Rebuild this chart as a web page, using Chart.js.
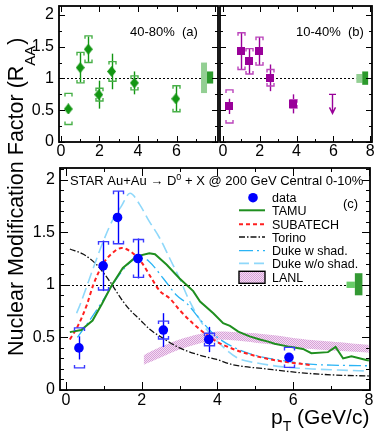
<!DOCTYPE html>
<html><head><meta charset="utf-8">
<script src="https://cdn.jsdelivr.net/npm/chart.js@4.4.0/dist/chart.umd.min.js"></script>
<style>
html,body{margin:0;padding:0;background:#fff;}
#wrap{position:relative;width:378px;height:441px;overflow:hidden;background:#fff;}
canvas{position:absolute;left:0;top:0;}
</style></head><body>
<div id="wrap">
<canvas id="ca" width="378" height="441"></canvas>
<canvas id="cb" width="378" height="441"></canvas>
<canvas id="cc" width="378" height="441"></canvas>
</div>
<script>
// ---------------- DATA ----------------
// Panel (a) 40-80%
const aX = [0.38, 1.0, 1.42, 1.96, 2.63, 3.81, 5.96];
const aY = [0.52, 1.17, 1.46, 0.745, 1.11, 0.93, 0.68];
const aStat = [0.07, 0.23, 0.20, 0.22, 0.28, 0.18, 0.20];
const aSys = [0.245, 0.24, 0.21, 0.10, 0.155, 0.11, 0.205];
const aNormLight = [7.27, 7.58, 0.77, 1.25];
const aNormDark = [7.58, 7.90, 0.92, 1.11];

// Panel (b) 10-40%
const bX = [0.34, 1.0, 1.39, 1.94, 2.58, 3.8];
const bY = [0.56, 1.43, 1.27, 1.43, 1.01, 0.60];
const bStat = [0.12, 0.29, 0.20, 0.22, 0.21, 0.15];
const bSys = [0.26, 0.29, 0.20, 0.22, 0.13, 0.065];
const bLimitX = [5.94];
const bLimitTop = [0.75];
const bLimitBottom = [0.45];
const bNormLight = [7.25, 7.57, 0.93, 1.07];
const bNormDark = [7.57, 7.89, 0.90, 1.11];

// Panel (c) 0-10%
const cX = [0.34, 0.98, 1.36, 1.90, 2.57, 3.77, 5.89];
const cY = [0.40, 1.18, 1.64, 1.25, 0.57, 0.48, 0.31];
const cStat = [0.11, 0.24, 0.25, 0.19, 0.16, 0.12, 0.03];
const cSys = [0.19, 0.23, 0.25, 0.18, 0.085, 0.06, 0.095];
const cNormLight = [7.41, 7.63, 0.97, 1.03];
const cNormDark = [7.63, 7.83, 0.90, 1.11];

// Model curves
const tamuX = [0.1,0.4,0.7,0.95,1.2,1.5,1.86,2.2,2.35,2.66,3.0,3.36,3.54,3.89,4.15,4.33,4.55,4.85,5.12,5.34,5.51,5.91,6.26,6.48,6.92,7.12,7.32,7.54,7.93,8.0];
const tamuY = [0.55,0.57,0.66,0.82,0.99,1.16,1.27,1.30,1.29,1.19,1.06,0.94,0.84,0.73,0.635,0.61,0.555,0.51,0.48,0.46,0.44,0.41,0.39,0.35,0.36,0.41,0.30,0.32,0.285,0.28];
const subaX = [0.1,0.3,0.55,0.72,0.98,1.25,1.47,1.73,2.0,2.26,2.48,2.74,3.0,3.36,3.89,4.41,4.94,5.56,6.09,6.5];
const subaY = [0.48,0.60,0.81,1.0,1.2,1.31,1.35,1.31,1.21,1.06,0.94,0.87,0.76,0.63,0.48,0.39,0.33,0.28,0.254,0.235];
const torX = [0.1,0.46,0.81,1.16,1.34,1.51,1.69,1.95,2.2,2.48,3.0,3.54,3.98,4.41,5.3,6.17,7.05,8.0];
const torY = [1.34,1.29,1.19,1.03,0.93,0.84,0.76,0.67,0.58,0.51,0.40,0.33,0.29,0.24,0.20,0.165,0.143,0.133];
const dukeWX = [0.3,0.6,0.9,1.34,1.6,1.86,2.05,2.2,2.57,2.92,3.2,3.54,4.0,4.59,5.0,5.9,6.44,7.2,8.0];
const dukeWY = [0.50,0.65,0.81,1.06,1.18,1.25,1.25,1.22,1.06,0.90,0.82,0.67,0.50,0.38,0.33,0.27,0.245,0.235,0.23];
const dukeNoX = [0.28,0.37,0.72,0.98,1.25,1.45,1.69,1.95,2.17,2.48,2.74,3.0,3.23,3.62,4.06,4.55,5.0,5.73,6.5,7.2,8.0];
const dukeNoY = [0.73,0.81,1.16,1.41,1.63,1.74,1.87,1.76,1.62,1.44,1.25,1.06,0.87,0.62,0.44,0.30,0.26,0.22,0.20,0.19,0.18];
const lanlX = [2.05,2.5,3.0,3.5,4.0,4.5,5.0,5.5,6.0,6.5,7.0,7.5,8.0];
const lanlHi = [0.33,0.41,0.48,0.53,0.555,0.55,0.54,0.52,0.495,0.475,0.46,0.445,0.43];
const lanlLo = [0.24,0.31,0.385,0.44,0.475,0.47,0.45,0.43,0.405,0.39,0.375,0.365,0.355];

// Tick labels
const aXTicks = [0, 2, 4, 6];
const bXTicks = [0, 2, 4, 6, 8];
const cXTicks = [0, 2, 4, 6, 8];
const abYTicks = [0, 0.5, 1, 1.5, 2];
const cYTicks = [0, 0.5, 1, 1.5, 2];
const legendLabels = ['data', 'TAMU', 'SUBATECH', 'Torino', 'Duke w shad.', 'Duke w/o shad.', 'LANL'];

// ---------------- STYLE ----------------
const FONT = '"Liberation Sans", Arial, Helvetica, sans-serif';
const GREEN = '#129612', GREEN_L = '#48b048';
const PURPLE = '#990099', PURPLE_L = '#bb44bb';
const BLUE = '#0000ff', BLUE_L = '#3a3aff';
const C_TAMU = '#1f8f1f', C_SUBA = '#ff2020', C_TOR = '#111111', C_DW = '#2ab4f5', C_DNO = '#8fd8fa';

const pts = (xs, ys) => xs.map((v, i) => ({x: v, y: ys[i]}));

function markerImg(kind, color, w, h) {
  const c = document.createElement('canvas'); c.width = w; c.height = h;
  const g = c.getContext('2d'); g.fillStyle = color; g.beginPath();
  if (kind === 'diamond') { g.moveTo(w/2,0); g.lineTo(w,h/2); g.lineTo(w/2,h); g.lineTo(0,h/2); g.closePath(); }
  else { g.rect(0,0,w,h); }
  g.fill(); return c;
}
function lanlPattern(ctx) {
  const c = document.createElement('canvas'); c.width = 2; c.height = 2;
  const g = c.getContext('2d');
  g.fillStyle = '#f4dcf4'; g.fillRect(0,0,2,2);
  g.fillStyle = '#d7a2d7'; g.fillRect(0,0,1,1); g.fillRect(1,1,1,1);
  return ctx.createPattern(c, 'repeat');
}

function drawFrame(chart, cfg) {
  const {ctx, chartArea: A, scales: {x, y}} = chart;
  ctx.save();
  ctx.strokeStyle = '#000'; ctx.lineWidth = 1;
  ctx.beginPath();
  for (let k = Math.ceil(x.min / cfg.xStep); k * cfg.xStep <= x.max + 1e-9; k++) {
    const v = k * cfg.xStep;
    const px = Math.round(x.getPixelForValue(v)) + 0.5;
    const major = Math.abs(v / cfg.xMajor - Math.round(v / cfg.xMajor)) < 1e-6;
    const L = major ? cfg.majLen : cfg.minLen;
    ctx.moveTo(px, A.bottom); ctx.lineTo(px, A.bottom - L);
    ctx.moveTo(px, A.top); ctx.lineTo(px, A.top + L);
  }
  for (let k = Math.ceil(y.min / cfg.yStep - 1e-9); k * cfg.yStep <= y.max + 1e-9; k++) {
    const v = k * cfg.yStep;
    const py = Math.round(y.getPixelForValue(v)) + 0.5;
    const major = Math.abs(v / cfg.yMajor - Math.round(v / cfg.yMajor)) < 1e-6;
    const L = major ? cfg.majLen : cfg.minLen;
    ctx.moveTo(A.left, py); ctx.lineTo(A.left + L, py);
    ctx.moveTo(A.right, py); ctx.lineTo(A.right - L, py);
  }
  ctx.stroke();
  ctx.lineWidth = 1.8;
  ctx.strokeRect(A.left, A.top, A.right - A.left, A.bottom - A.top);
  ctx.fillStyle = '#000'; ctx.font = cfg.tickFont;
  ctx.textAlign = 'center'; ctx.textBaseline = 'middle';
  cfg.xLabels.forEach(v => ctx.fillText(String(v), x.getPixelForValue(v), cfg.xLabelY));
  ctx.textAlign = 'right';
  cfg.yLabels.forEach(v => ctx.fillText(String(v), cfg.yLabelX, y.getPixelForValue(v)));
  ctx.restore();
}

function drawUnder(chart, light, dark, lightColor, darkColor) {
  const {ctx, chartArea: A, scales: {x, y}} = chart;
  ctx.save();
  ctx.strokeStyle = '#000'; ctx.lineWidth = 1; ctx.setLineDash([2, 2]);
  const py = Math.round(y.getPixelForValue(1)) + 0.5;
  ctx.beginPath(); ctx.moveTo(A.left, py); ctx.lineTo(x.getPixelForValue(light[0]), py); ctx.stroke();
  ctx.setLineDash([]);
  [[light, lightColor], [dark, darkColor]].forEach(([b, col]) => {
    const x0 = x.getPixelForValue(b[0]), x1 = x.getPixelForValue(b[1]);
    const y0 = y.getPixelForValue(b[2]), y1 = y.getPixelForValue(b[3]);
    ctx.fillStyle = col; ctx.fillRect(x0, y1, x1 - x0, y0 - y1);
  });
  ctx.restore();
}

function drawErrors(chart, xs, ys, stat, sys, sc, syc, hw) {
  const {ctx, scales: {x, y}} = chart;
  ctx.save(); ctx.lineWidth = 1.4;
  for (let i = 0; i < xs.length; i++) {
    const px = Math.round(x.getPixelForValue(xs[i])) + 0.5;
    ctx.strokeStyle = sc; ctx.beginPath();
    ctx.moveTo(px, y.getPixelForValue(ys[i] - stat[i])); ctx.lineTo(px, y.getPixelForValue(ys[i] + stat[i])); ctx.stroke();
    ctx.strokeStyle = syc;
    const yt = y.getPixelForValue(ys[i] + sys[i]), yb = y.getPixelForValue(ys[i] - sys[i]);
    const hk = 3;
    ctx.beginPath();
    ctx.moveTo(px - hw, yt + hk); ctx.lineTo(px - hw, yt); ctx.lineTo(px + hw, yt); ctx.lineTo(px + hw, yt + hk);
    ctx.moveTo(px - hw, yb - hk); ctx.lineTo(px - hw, yb); ctx.lineTo(px + hw, yb); ctx.lineTo(px + hw, yb - hk);
    ctx.stroke();
  }
  ctx.restore();
}

function makeChart(id, pad, xr, yr, datasets, plugin) {
  return new Chart(document.getElementById(id), {
    type: 'scatter',
    data: {datasets},
    options: {
      responsive: false, animation: false, devicePixelRatio: 1, events: [],
      layout: {padding: pad},
      plugins: {legend: {display: false}, tooltip: {enabled: false}, title: {display: false}},
      scales: {
        x: {type: 'linear', min: xr[0], max: xr[1], display: false},
        y: {type: 'linear', min: yr[0], max: yr[1], display: false}
      }
    },
    plugins: [plugin]
  });
}

const tickFont = '16px ' + FONT;

// ---------------- PANEL (a) ----------------
makeChart('ca', {left: 59, right: 160, top: 5, bottom: 299}, [-0.1, 8.15], [0, 2.14], [
  {data: pts(aX, aY), pointStyle: markerImg('diamond', GREEN, 9, 11), pointRadius: 5, showLine: false}
], {
  id: 'pa',
  beforeDatasetsDraw(chart) { drawUnder(chart, aNormLight, aNormDark, '#93cf93', '#2c9a2c'); },
  beforeDatasetDraw(chart, args) { if (args.index === 0) drawErrors(chart, aX, aY, aStat, aSys, GREEN, GREEN_L, 3.5); },
  afterDraw(chart) {
    drawFrame(chart, {xStep: 1, xMajor: 2, yStep: 0.25, yMajor: 0.5, majLen: 6, minLen: 3,
      tickFont, xLabels: aXTicks, xLabelY: 152, yLabels: abYTicks, yLabelX: 54});
    const ctx = chart.ctx; ctx.save(); ctx.fillStyle = '#000'; ctx.font = '13px ' + FONT;
    ctx.textBaseline = 'alphabetic'; ctx.textAlign = 'left'; ctx.fillText('40-80%  (a)', 130, 36); ctx.restore();
  }
});

// ---------------- PANEL (b) ----------------
makeChart('cb', {left: 220, right: 3, top: 5, bottom: 299}, [-0.16, 8.1], [0, 2.14], [
  {data: pts(bX, bY), pointStyle: markerImg('rect', PURPLE, 8, 8), pointRadius: 5, showLine: false}
], {
  id: 'pb',
  beforeDatasetsDraw(chart) { drawUnder(chart, bNormLight, bNormDark, '#93cf93', '#2c9a2c'); },
  beforeDatasetDraw(chart, args) {
    if (args.index !== 0) return;
    drawErrors(chart, bX, bY, bStat, bSys, PURPLE, PURPLE_L, 3.5);
    const {ctx, scales: {x, y}} = chart;
    ctx.save(); ctx.strokeStyle = PURPLE; ctx.lineWidth = 1.4;
    bLimitX.forEach((v, i) => {
      const px = Math.round(x.getPixelForValue(v)) + 0.5;
      const yt = y.getPixelForValue(bLimitTop[i]), yb = y.getPixelForValue(bLimitBottom[i]);
      ctx.beginPath();
      ctx.moveTo(px - 3.5, yt); ctx.lineTo(px + 3.5, yt);
      ctx.moveTo(px, yt); ctx.lineTo(px, yb);
      ctx.moveTo(px - 3, yb - 6); ctx.lineTo(px, yb); ctx.lineTo(px + 3, yb - 6);
      ctx.stroke();
    });
    ctx.restore();
  },
  afterDraw(chart) {
    drawFrame(chart, {xStep: 1, xMajor: 2, yStep: 0.25, yMajor: 0.5, majLen: 6, minLen: 3,
      tickFont, xLabels: bXTicks, xLabelY: 152, yLabels: [], yLabelX: 0});
    const ctx = chart.ctx; ctx.save(); ctx.fillStyle = '#000'; ctx.font = '13px ' + FONT;
    ctx.textBaseline = 'alphabetic'; ctx.textAlign = 'left'; ctx.fillText('10-40%  (b)', 296, 36); ctx.restore();
  }
});

// ---------------- PANEL (c) ----------------
const ctxC = document.getElementById('cc').getContext('2d');
const pat = lanlPattern(ctxC);
const curve = (xs, ys, color, width, dash, mono) => ({
  data: pts(xs, ys), showLine: true, pointRadius: 0, borderColor: color, borderWidth: width,
  borderDash: dash, fill: false, cubicInterpolationMode: mono ? 'monotone' : 'default', tension: mono ? 0.4 : 0
});
const cDatasets = [
  {data: pts(cX, cY), pointStyle: 'circle', pointRadius: 4.8, backgroundColor: BLUE, borderWidth: 0, showLine: false},
  curve(tamuX, tamuY, C_TAMU, 2, [], false),
  curve(subaX, subaY, C_SUBA, 2, [4, 3], true),
  curve(dukeWX, dukeWY, C_DW, 1.3, [12, 4, 2, 4], true),
  curve(dukeNoX, dukeNoY, C_DNO, 1.6, [11, 5], true),
  curve(torX, torY, C_TOR, 1.3, [6, 2, 1.5, 2], true),
  {data: pts(lanlX, lanlHi), showLine: true, pointRadius: 0, borderWidth: 0, borderColor: 'rgba(0,0,0,0)',
   backgroundColor: pat, fill: {target: 7}, tension: 0.3},
  {data: pts(lanlX, lanlLo), showLine: true, pointRadius: 0, borderWidth: 0, borderColor: 'rgba(0,0,0,0)', fill: false, tension: 0.3}
];
makeChart('cc', {left: 60, right: 8, top: 168, bottom: 51}, [-0.16, 8.03], [0, 2.11], cDatasets, {
  id: 'pc',
  beforeDatasetsDraw(chart) { drawUnder(chart, cNormLight, cNormDark, '#66cc66', '#339933'); },
  beforeDatasetDraw(chart, args) { if (args.index === 0) drawErrors(chart, cX, cY, cStat, cSys, BLUE, BLUE_L, 5); },
  afterDraw(chart) {
    drawFrame(chart, {xStep: 1, xMajor: 2, yStep: 0.1, yMajor: 0.5, majLen: 8, minLen: 4,
      tickFont, xLabels: cXTicks, xLabelY: 401, yLabels: cYTicks, yLabelX: 55});
    const ctx = chart.ctx;
    ctx.save(); ctx.fillStyle = '#000'; ctx.textBaseline = 'alphabetic'; ctx.textAlign = 'left';
    // header
    ctx.font = '13px ' + FONT;
    let xp = 70; const by = 184.5;
    const seg = (t, f, dy) => { ctx.font = f; ctx.fillText(t, xp, by + (dy || 0)); xp += ctx.measureText(t).width; };
    seg('STAR Au+Au ', '13px ' + FONT);
    seg('\u2192', '13px ' + FONT);
    seg(' D', '13px ' + FONT);
    seg('0', '9px ' + FONT, -5);
    seg(' + X @ 200 GeV Central 0-10%', '13px ' + FONT);
    ctx.font = '13px ' + FONT; ctx.fillText('(c)', 343, 208);
    // legend
    const rows = [197.7, 210.3, 224.3, 237, 250.7, 263.3, 277.3];
    const lx0 = 239, lx1 = 265;
    ctx.font = '12.5px ' + FONT;
    legendLabels.forEach((t, i) => ctx.fillText(t, 272, rows[i] + 4.5));
    ctx.fillStyle = BLUE; ctx.beginPath(); ctx.arc(253, rows[0], 4.8, 0, 2 * Math.PI); ctx.fill();
    const lline = (r, col, w, dash) => {
      ctx.strokeStyle = col; ctx.lineWidth = w; ctx.setLineDash(dash);
      ctx.beginPath(); ctx.moveTo(lx0, rows[r]); ctx.lineTo(lx1, rows[r]); ctx.stroke();
    };
    lline(1, C_TAMU, 2, []);
    lline(2, C_SUBA, 2, [4, 3]);
    lline(3, C_TOR, 1.3, [6, 2, 1.5, 2]);
    lline(4, C_DW, 1.3, [14, 4, 2, 4]);
    lline(5, C_DNO, 1.8, [10, 5]);
    ctx.setLineDash([]);
    ctx.fillStyle = pat; ctx.fillRect(lx0, rows[6] - 6, lx1 - lx0, 12);
    ctx.strokeStyle = '#000'; ctx.lineWidth = 1.4; ctx.strokeRect(lx0, rows[6] - 6, lx1 - lx0, 12);
    // x axis title
    ctx.fillStyle = '#000';
    xp = 271;
    const by2 = 424;
    ctx.font = '21px ' + FONT; ctx.fillText('p', xp, by2); xp += ctx.measureText('p').width;
    ctx.font = '14px ' + FONT; ctx.fillText('T', xp, by2 + 7); xp += ctx.measureText('T').width;
    ctx.font = '21px ' + FONT; ctx.fillText(' (GeV/c)', xp, by2);
    // y axis title (rotated)
    ctx.translate(23, 356); ctx.rotate(-Math.PI / 2);
    let tx = 0;
    ctx.font = '21.5px ' + FONT; ctx.fillText('Nuclear Modification Factor (R', tx, 0);
    tx += ctx.measureText('Nuclear Modification Factor (R').width;
    ctx.font = '15px ' + FONT; ctx.fillText('AA', tx, 12); tx += ctx.measureText('AA').width;
    ctx.font = '21.5px ' + FONT; ctx.fillText(')', tx + 1, 0);
    ctx.restore();
  }
});
</script>
</body></html>
